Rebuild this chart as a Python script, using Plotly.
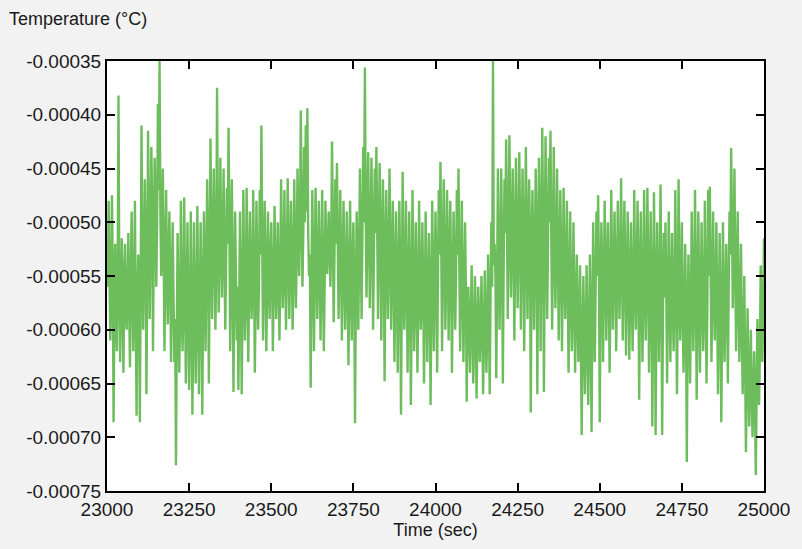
import plotly.graph_objects as go

# Time axis (sec): one sample every 2.5 s from 23000 to 25000
time_start = 23000
time_step = 2.5

# Temperature (°C), 801 samples
temperature = [
    # 23000-23097.5
    -5.3e-4, -5.6e-4, -4.8e-4, -5.5e-4, -6.1e-4, -5.7e-4, -4.75e-4, -5.4e-4, -6.86e-4, -5.8e-4,
    -5.2e-4, -5.9e-4, -6.2e-4, -5.5e-4, -3.82e-4, -5.6e-4, -6.3e-4, -5.8e-4, -5.15e-4, -5.7e-4,
    -6.4e-4, -5.5e-4, -5.2e-4, -5.9e-4, -6.0e-4, -5.6e-4, -5.1e-4, -5.8e-4, -6.35e-4, -5.5e-4,
    -4.9e-4, -5.7e-4, -6.2e-4, -5.6e-4, -4.8e-4, -5.9e-4, -6.8e-4, -5.7e-4, -5.3e-4, -5.5e-4,
    # 23100-23197.5
    -6.86e-4, -5.6e-4, -4.1e-4, -5.3e-4, -6.0e-4, -5.4e-4, -4.6e-4, -5.2e-4, -6.6e-4, -5.5e-4,
    -4.15e-4, -5.0e-4, -5.9e-4, -5.1e-4, -4.3e-4, -4.9e-4, -6.2e-4, -5.2e-4, -4.4e-4, -4.8e-4,
    -5.6e-4, -5.0e-4, -3.9e-4, -4.7e-4, -3.5e-4, -4.9e-4, -5.5e-4, -5.1e-4, -4.5e-4, -5.3e-4,
    -6.2e-4, -5.4e-4, -4.7e-4, -5.5e-4, -5.95e-4, -5.3e-4, -4.9e-4, -5.6e-4, -6.3e-4, -5.5e-4,
    # 23200-23297.5
    -5.0e-4, -5.7e-4, -6.3e-4, -5.9e-4, -7.26e-4, -6.0e-4, -5.1e-4, -5.8e-4, -6.4e-4, -5.9e-4,
    -4.8e-4, -5.7e-4, -6.2e-4, -5.8e-4, -4.77e-4, -5.6e-4, -6.5e-4, -5.9e-4, -5.0e-4, -5.8e-4,
    -6.56e-4, -6.0e-4, -4.9e-4, -5.7e-4, -6.79e-4, -6.0e-4, -5.0e-4, -5.8e-4, -6.5e-4, -5.9e-4,
    -4.85e-4, -5.7e-4, -6.6e-4, -5.9e-4, -5.0e-4, -5.6e-4, -6.79e-4, -5.8e-4, -4.9e-4, -5.5e-4,
    # 23300-23397.5
    -6.2e-4, -5.4e-4, -4.6e-4, -5.2e-4, -6.5e-4, -5.5e-4, -4.22e-4, -5.1e-4, -5.9e-4, -5.3e-4,
    -4.5e-4, -5.2e-4, -6.0e-4, -5.4e-4, -3.75e-4, -5.0e-4, -5.84e-4, -5.3e-4, -4.4e-4, -5.1e-4,
    -5.7e-4, -5.2e-4, -4.5e-4, -5.3e-4, -6.0e-4, -5.4e-4, -4.68e-4, -5.2e-4, -4.12e-4, -5.0e-4,
    -6.2e-4, -5.5e-4, -4.6e-4, -5.4e-4, -6.58e-4, -5.6e-4, -4.9e-4, -5.5e-4, -6.1e-4, -5.6e-4,
    # 23400-23497.5
    -6.56e-4, -5.7e-4, -4.9e-4, -5.6e-4, -6.6e-4, -5.8e-4, -4.7e-4, -5.5e-4, -6.1e-4, -5.7e-4,
    -4.68e-4, -5.4e-4, -6.3e-4, -5.6e-4, -4.9e-4, -5.5e-4, -5.9e-4, -5.6e-4, -4.7e-4, -5.4e-4,
    -6.4e-4, -5.7e-4, -4.8e-4, -5.5e-4, -6.0e-4, -5.6e-4, -4.7e-4, -5.3e-4, -4.1e-4, -5.2e-4,
    -6.1e-4, -5.5e-4, -4.8e-4, -5.4e-4, -6.2e-4, -5.6e-4, -4.9e-4, -5.5e-4, -5.9e-4, -5.4e-4,
    # 23500-23597.5
    -5.0e-4, -5.5e-4, -6.2e-4, -5.6e-4, -4.85e-4, -5.4e-4, -5.9e-4, -5.5e-4, -5.0e-4, -5.6e-4,
    -6.1e-4, -5.5e-4, -4.6e-4, -5.3e-4, -5.8e-4, -5.4e-4, -4.7e-4, -5.5e-4, -6.0e-4, -5.4e-4,
    -4.59e-4, -5.2e-4, -5.9e-4, -5.4e-4, -4.8e-4, -5.3e-4, -6.0e-4, -5.5e-4, -4.6e-4, -5.2e-4,
    -5.8e-4, -5.3e-4, -4.5e-4, -5.1e-4, -5.5e-4, -5.0e-4, -3.96e-4, -4.9e-4, -5.6e-4, -5.1e-4,
    # 23600-23697.5
    -4.3e-4, -5.0e-4, -4.1e-4, -4.9e-4, -3.94e-4, -5.1e-4, -5.5e-4, -5.3e-4, -6.54e-4, -5.5e-4,
    -4.7e-4, -5.4e-4, -6.2e-4, -5.5e-4, -4.68e-4, -5.3e-4, -5.9e-4, -5.5e-4, -4.8e-4, -5.4e-4,
    -6.1e-4, -5.6e-4, -4.7e-4, -5.4e-4, -6.2e-4, -5.6e-4, -4.8e-4, -5.3e-4, -5.48e-4, -5.2e-4,
    -4.9e-4, -5.3e-4, -5.6e-4, -5.2e-4, -4.25e-4, -5.0e-4, -5.93e-4, -5.3e-4, -4.6e-4, -5.2e-4,
    # 23700-23797.5
    -4.45e-4, -5.2e-4, -5.9e-4, -5.4e-4, -4.7e-4, -5.3e-4, -6.1e-4, -5.5e-4, -4.8e-4, -5.4e-4,
    -6.0e-4, -5.6e-4, -4.9e-4, -5.5e-4, -6.33e-4, -5.6e-4, -4.8e-4, -5.5e-4, -6.1e-4, -5.4e-4,
    -5.0e-4, -5.6e-4, -6.87e-4, -5.7e-4, -4.9e-4, -5.4e-4, -6.0e-4, -5.3e-4, -4.5e-4, -5.2e-4,
    -5.9e-4, -5.1e-4, -4.3e-4, -5.0e-4, -3.56e-4, -4.9e-4, -5.7e-4, -5.1e-4, -4.35e-4, -5.0e-4,
    # 23800-23897.5
    -5.8e-4, -5.2e-4, -4.4e-4, -5.0e-4, -6.0e-4, -5.3e-4, -4.5e-4, -5.1e-4, -4.3e-4, -5.0e-4,
    -5.9e-4, -5.2e-4, -4.45e-4, -5.1e-4, -6.1e-4, -5.3e-4, -4.6e-4, -5.2e-4, -6.48e-4, -5.4e-4,
    -4.7e-4, -5.3e-4, -5.9e-4, -5.4e-4, -4.5e-4, -5.2e-4, -6.0e-4, -5.5e-4, -4.8e-4, -5.4e-4,
    -6.3e-4, -5.6e-4, -4.9e-4, -5.5e-4, -6.4e-4, -5.6e-4, -4.8e-4, -5.5e-4, -6.79e-4, -5.7e-4,
    # 23900-23997.5
    -4.53e-4, -5.4e-4, -6.0e-4, -5.6e-4, -4.8e-4, -5.5e-4, -6.4e-4, -5.7e-4, -4.9e-4, -5.6e-4,
    -6.7e-4, -5.8e-4, -4.7e-4, -5.5e-4, -6.2e-4, -5.7e-4, -5.0e-4, -5.6e-4, -6.4e-4, -5.8e-4,
    -4.8e-4, -5.5e-4, -6.0e-4, -5.7e-4, -5.0e-4, -5.6e-4, -6.5e-4, -5.8e-4, -4.9e-4, -5.6e-4,
    -6.3e-4, -5.7e-4, -5.1e-4, -5.6e-4, -6.7e-4, -5.8e-4, -4.8e-4, -5.5e-4, -6.2e-4, -5.6e-4,
    # 24000-24097.5
    -4.9e-4, -5.4e-4, -6.4e-4, -5.5e-4, -4.7e-4, -5.3e-4, -4.44e-4, -5.2e-4, -6.2e-4, -5.4e-4,
    -4.6e-4, -5.3e-4, -6.0e-4, -5.5e-4, -4.7e-4, -5.3e-4, -6.1e-4, -5.4e-4, -4.8e-4, -5.5e-4,
    -6.4e-4, -5.6e-4, -4.9e-4, -5.4e-4, -6.0e-4, -5.5e-4, -4.7e-4, -5.3e-4, -4.5e-4, -5.4e-4,
    -6.2e-4, -5.6e-4, -4.8e-4, -5.5e-4, -6.3e-4, -5.7e-4, -5.0e-4, -5.6e-4, -6.67e-4, -5.8e-4,
    # 24100-24197.5
    -5.6e-4, -6.0e-4, -6.4e-4, -5.9e-4, -5.4e-4, -6.0e-4, -6.5e-4, -6.1e-4, -5.5e-4, -5.9e-4,
    -6.64e-4, -6.1e-4, -5.6e-4, -6.0e-4, -6.3e-4, -5.9e-4, -5.5e-4, -6.0e-4, -6.6e-4, -6.1e-4,
    -5.45e-4, -5.9e-4, -6.4e-4, -6.0e-4, -5.3e-4, -5.8e-4, -6.6e-4, -5.7e-4, -5.0e-4, -5.6e-4,
    -3.5e-4, -5.4e-4, -5.2e-4, -5.5e-4, -6.45e-4, -5.6e-4, -4.5e-4, -5.3e-4, -6.0e-4, -5.4e-4,
    # 24200-24297.5
    -4.5e-4, -5.2e-4, -6.5e-4, -5.4e-4, -4.6e-4, -5.1e-4, -4.23e-4, -5.0e-4, -5.9e-4, -5.2e-4,
    -4.19e-4, -5.0e-4, -5.7e-4, -5.2e-4, -4.5e-4, -5.1e-4, -6.1e-4, -5.3e-4, -4.4e-4, -5.1e-4,
    -5.8e-4, -5.2e-4, -4.35e-4, -5.0e-4, -6.0e-4, -5.3e-4, -4.5e-4, -5.1e-4, -6.2e-4, -5.3e-4,
    -4.3e-4, -5.0e-4, -5.9e-4, -5.2e-4, -4.6e-4, -5.1e-4, -6.77e-4, -5.4e-4, -4.7e-4, -5.2e-4,
    # 24300-24397.5
    -6.0e-4, -5.3e-4, -4.5e-4, -5.1e-4, -6.6e-4, -5.3e-4, -4.4e-4, -5.0e-4, -6.2e-4, -5.2e-4,
    -4.12e-4, -5.0e-4, -6.58e-4, -5.3e-4, -4.2e-4, -5.1e-4, -5.9e-4, -5.2e-4, -4.4e-4, -5.0e-4,
    -4.15e-4, -5.1e-4, -6.0e-4, -5.3e-4, -4.3e-4, -5.2e-4, -5.8e-4, -5.3e-4, -4.5e-4, -5.2e-4,
    -6.1e-4, -5.4e-4, -4.7e-4, -5.3e-4, -6.2e-4, -5.5e-4, -4.68e-4, -5.4e-4, -5.9e-4, -5.5e-4,
    # 24400-24497.5
    -4.8e-4, -5.5e-4, -6.4e-4, -5.7e-4, -4.9e-4, -5.6e-4, -6.2e-4, -5.8e-4, -5.0e-4, -5.7e-4,
    -6.4e-4, -5.9e-4, -5.3e-4, -5.8e-4, -6.3e-4, -6.0e-4, -5.4e-4, -6.1e-4, -6.98e-4, -6.2e-4,
    -5.5e-4, -6.0e-4, -6.6e-4, -6.1e-4, -5.4e-4, -6.0e-4, -6.7e-4, -6.1e-4, -5.3e-4, -5.9e-4,
    -6.95e-4, -6.0e-4, -5.0e-4, -5.7e-4, -6.3e-4, -5.6e-4, -4.9e-4, -5.5e-4, -4.75e-4, -5.4e-4,
    # 24500-24597.5
    -6.86e-4, -5.7e-4, -5.0e-4, -5.5e-4, -6.3e-4, -5.6e-4, -4.8e-4, -5.4e-4, -6.1e-4, -5.5e-4,
    -5.0e-4, -5.6e-4, -6.4e-4, -5.7e-4, -4.7e-4, -5.4e-4, -6.0e-4, -5.5e-4, -4.9e-4, -5.4e-4,
    -6.2e-4, -5.6e-4, -4.8e-4, -5.4e-4, -5.9e-4, -5.5e-4, -4.59e-4, -5.3e-4, -6.1e-4, -5.5e-4,
    -4.8e-4, -5.4e-4, -6.24e-4, -5.6e-4, -4.9e-4, -5.5e-4, -6.28e-4, -5.7e-4, -5.0e-4, -5.6e-4,
    # 24600-24697.5
    -6.2e-4, -5.7e-4, -4.7e-4, -5.5e-4, -6.0e-4, -5.6e-4, -4.8e-4, -5.4e-4, -6.65e-4, -5.7e-4,
    -4.9e-4, -5.6e-4, -6.3e-4, -5.7e-4, -4.7e-4, -5.5e-4, -6.1e-4, -5.6e-4, -4.68e-4, -5.4e-4,
    -6.4e-4, -5.7e-4, -4.9e-4, -5.6e-4, -6.9e-4, -5.8e-4, -4.72e-4, -5.5e-4, -6.98e-4, -5.8e-4,
    -5.0e-4, -5.6e-4, -6.3e-4, -5.7e-4, -4.65e-4, -5.5e-4, -6.98e-4, -5.8e-4, -5.1e-4, -5.7e-4,
    # 24700-24797.5
    -5.0e-4, -5.6e-4, -6.5e-4, -5.8e-4, -4.9e-4, -5.6e-4, -6.3e-4, -5.7e-4, -5.1e-4, -5.8e-4,
    -6.2e-4, -5.7e-4, -4.7e-4, -5.6e-4, -6.6e-4, -5.8e-4, -4.6e-4, -5.5e-4, -6.1e-4, -5.7e-4,
    -5.0e-4, -5.8e-4, -6.4e-4, -5.9e-4, -5.2e-4, -5.8e-4, -7.23e-4, -6.0e-4, -5.3e-4, -5.9e-4,
    -6.5e-4, -5.8e-4, -4.9e-4, -5.6e-4, -6.2e-4, -5.7e-4, -4.7e-4, -5.5e-4, -6.65e-4, -5.8e-4,
    # 24800-24897.5
    -4.9e-4, -5.6e-4, -6.4e-4, -5.8e-4, -5.0e-4, -5.7e-4, -6.2e-4, -5.8e-4, -4.8e-4, -5.6e-4,
    -6.5e-4, -5.8e-4, -4.7e-4, -5.5e-4, -4.67e-4, -5.4e-4, -6.3e-4, -5.7e-4, -4.9e-4, -5.6e-4,
    -6.1e-4, -5.7e-4, -5.0e-4, -5.8e-4, -6.6e-4, -5.9e-4, -5.1e-4, -5.8e-4, -6.86e-4, -6.0e-4,
    -5.0e-4, -5.7e-4, -6.3e-4, -5.8e-4, -5.2e-4, -5.7e-4, -6.5e-4, -5.6e-4, -4.9e-4, -5.3e-4,
    # 24900-25000
    -4.31e-4, -5.0e-4, -5.8e-4, -5.3e-4, -4.5e-4, -5.4e-4, -6.2e-4, -5.6e-4, -4.9e-4, -5.7e-4,
    -6.3e-4, -5.8e-4, -5.2e-4, -6.0e-4, -6.6e-4, -6.2e-4, -5.5e-4, -6.3e-4, -7.14e-4, -6.5e-4,
    -5.8e-4, -6.4e-4, -6.9e-4, -6.5e-4, -6.0e-4, -6.6e-4, -7.0e-4, -6.6e-4, -6.2e-4, -6.7e-4,
    -7.35e-4, -6.6e-4, -5.9e-4, -6.4e-4, -6.7e-4, -6.2e-4, -5.4e-4, -6.0e-4, -6.3e-4, -5.8e-4,
    -5.15e-4,
]

time = [time_start + i * time_step for i in range(len(temperature))]

x_tick_values = [23000, 23250, 23500, 23750, 24000, 24250, 24500, 24750, 25000]
x_tick_labels = ["23000", "23250", "23500", "23750", "24000", "24250", "24500", "24750", "25000"]
y_tick_values = [-0.00075, -0.00070, -0.00065, -0.00060, -0.00055, -0.00050, -0.00045, -0.00040, -0.00035]
y_tick_labels = ["-0.00075", "-0.00070", "-0.00065", "-0.00060", "-0.00055", "-0.00050", "-0.00045", "-0.00040", "-0.00035"]

FONT = "Liberation Sans, Arial, sans-serif"
TEXT = "#1a1a1a"

fig = go.Figure()
fig.add_trace(go.Scatter(
    x=time, y=temperature, mode="lines",
    line=dict(color="#6dbd5c", width=2.4),
    hoverinfo="skip", showlegend=False,
))

axis_common = dict(
    showgrid=False, zeroline=False,
    showline=True, linecolor="black", linewidth=2, mirror="ticks",
    ticks="inside", ticklen=8, tickwidth=2, tickcolor="black",
    tickfont=dict(family=FONT, size=19, color=TEXT),
)

fig.update_xaxes(
    range=[23000, 25000], tickmode="array",
    tickvals=x_tick_values, ticktext=x_tick_labels,
    title=dict(text="Time (sec)", font=dict(family=FONT, size=18, color=TEXT), standoff=4),
    **axis_common,
)
fig.update_yaxes(
    range=[-0.00075, -0.00035], tickmode="array",
    tickvals=y_tick_values, ticktext=y_tick_labels,
    **axis_common,
)

fig.add_annotation(
    text="Temperature (°C)", xref="paper", yref="paper",
    x=-0.152, y=1.0, xanchor="left", yanchor="bottom", yshift=30,
    showarrow=False, font=dict(family=FONT, size=18, color=TEXT),
)

fig.update_layout(
    width=802, height=549,
    margin=dict(l=107, r=35, t=61, b=58),
    paper_bgcolor="#f2f2f2", plot_bgcolor="white",
)

fig.write_html(
    "out.html",
    config={"displayModeBar": False},
    post_script="document.body.style.margin='0';document.body.style.background='#f2f2f2';",
)
